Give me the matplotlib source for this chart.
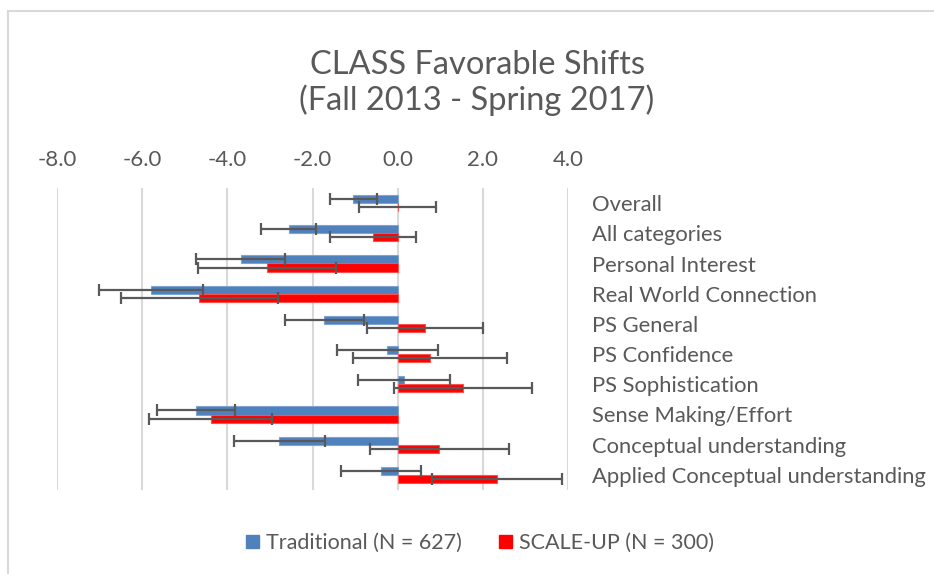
import numpy as np
import matplotlib
matplotlib.use('Agg')
import matplotlib.pyplot as plt
from matplotlib.lines import Line2D
from matplotlib.patches import Patch

plt.rcParams['font.family'] = ['Lato', 'DejaVu Sans']

categories = ['Overall', 'All categories', 'Personal Interest', 'Real World Connection',
              'PS General', 'PS Confidence', 'PS Sophistication', 'Sense Making/Effort',
              'Conceptual understanding', 'Applied Conceptual understanding']
trad = [-1.04, -2.56, -3.69, -5.80, -1.72, -0.24, 0.15, -4.74, -2.78, -0.39]
trad_err = [0.56, 0.65, 1.05, 1.22, 0.92, 1.19, 1.09, 0.92, 1.07, 0.94]
scale = [0.0, -0.58, -3.07, -4.66, 0.64, 0.76, 1.53, -4.39, 0.98, 2.33]
scale_err = [0.91, 1.02, 1.62, 1.84, 1.36, 1.81, 1.62, 1.44, 1.63, 1.53]
xticks = [-8, -6, -4, -2, 0, 2, 4]

grey = '#595959'
fig = plt.figure(figsize=(9.34, 5.74), dpi=100)
ax = fig.add_axes([57/934, 1-490/574, 511/934, 302/574])

y = np.arange(len(categories))
h = 0.27
errkw = dict(ecolor=grey, elinewidth=1.6, capsize=4.5, capthick=1.6)
ax.barh(y - h/2, trad, height=h, color='#4F81BD', edgecolor='#7FA3D3', lw=0.8,
        xerr=trad_err, error_kw=errkw, zorder=3)
ax.barh(y + h/2, scale, height=h, color='#FF0000', edgecolor='#FF5050', lw=0.8,
        xerr=scale_err, error_kw=errkw, zorder=3)

ax.set_xlim(-8, 4)
ax.set_ylim(len(categories) - 0.5, -0.5)
ax.set_xticks(xticks)
ax.set_xticklabels(['%.1f' % v for v in xticks])
ax.xaxis.tick_top()
ax.tick_params(axis='x', length=0, pad=13, labelsize=16, labelcolor=grey)
ax.set_yticks(y)
ax.set_yticklabels(categories)
ax.yaxis.tick_right()
ax.tick_params(axis='y', length=0, pad=17, labelsize=15.8, labelcolor=grey)
ax.grid(axis='x', color='#D9D9D9', lw=1.5, zorder=0)
ax.set_axisbelow(True)
for s in ax.spines.values():
    s.set_visible(False)

fig.text(477/934, 1-83/574, 'CLASS Favorable Shifts\n(Fall 2013 - Spring 2017)',
         ha='center', va='center', fontsize=23.5, color=grey, linespacing=1.2)

handles = [Patch(color='#4F81BD'), Patch(color='#FF0000')]
fig.legend(handles, ['Traditional (N = 627)', 'SCALE-UP (N = 300)'], loc='center',
           bbox_to_anchor=(480/934, 1-543/574), ncol=2, frameon=False, fontsize=15.5,
           labelcolor=grey, handlelength=0.6, handleheight=0.6, handletextpad=0.35,
           columnspacing=1.7)

# chart border (left and top edges visible)
fig.add_artist(Line2D([8/934, 8/934], [0, 1-11/574], color='#D9D9D9', lw=1.5))
fig.add_artist(Line2D([8/934, 1], [1-11/574, 1-11/574], color='#D9D9D9', lw=1.5))

fig.savefig('out.png', dpi=100)
